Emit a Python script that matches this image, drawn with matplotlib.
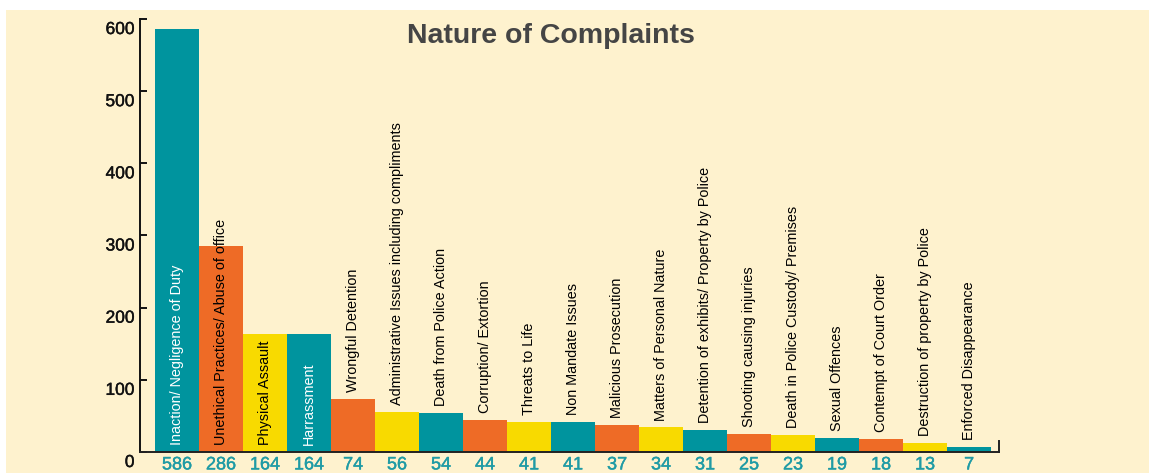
import matplotlib
matplotlib.use("Agg")
import matplotlib.pyplot as plt
import matplotlib.transforms as mtransforms
import matplotlib.patheffects as pe
from matplotlib.patches import Rectangle
from matplotlib.lines import Line2D

plt.rcParams['font.family'] = ['Liberation Sans', 'DejaVu Sans']

categories = [
    "Inaction/ Negligence of Duty",
    "Unethical Practices/ Abuse of office",
    "Physical Assault",
    "Harrassment",
    "Wrongful Detention",
    "Administrative Issues including compliments",
    "Death from Police Action",
    "Corruption/ Extortion",
    "Threats to Life",
    "Non Mandate Issues",
    "Malicious Prosecution",
    "Matters of Personal Nature",
    "Detention of exhibits/ Property by Police",
    "Shooting causing injuries",
    "Death in Police Custody/ Premises",
    "Sexual Offences",
    "Contempt of Court Order",
    "Destruction of property by Police",
    "Enforced Disappearance",
]
values = [586, 286, 164, 164, 74, 56, 54, 44, 41, 41, 37, 34, 31, 25, 23, 19, 18, 13, 7]
yticks = [0, 100, 200, 300, 400, 500, 600]
title = "Nature of Complaints"

TEAL = "#00949E"
ORANGE = "#EE6B26"
YELLOW = "#F8DA00"
CREAM = "#FEF2CE"
palette = [TEAL, ORANGE, YELLOW]
bar_colors = [palette[i % 3] for i in range(len(values))]

W, H = 1149, 473
fig = plt.figure(figsize=(W / 100, H / 100), dpi=100, facecolor="white")
fig.patches.append(Rectangle((6 / W, 0), 1, (H - 10) / H, transform=fig.transFigure,
                             facecolor=CREAM, edgecolor="none", zorder=-10))

ax = fig.add_axes([140 / W, 21 / H, (999 - 140) / W, (452 - 19) / H])
ax.set_facecolor("none")
x = list(range(len(values)))
ax.bar(x, values, width=1.0, color=bar_colors, edgecolor="none", zorder=2)
ax.set_xlim(-0.5 - 15 / 44, len(values) - 0.5 + 8 / 44)
ax.set_ylim(0, 600)

for s in ["top", "right"]:
    ax.spines[s].set_visible(False)
ax.spines["left"].set_linewidth(1.4)
ax.spines["bottom"].set_linewidth(1.4)
ax.spines["left"].set_color("#111111")
ax.spines["bottom"].set_color("#222222")

ax.set_xticks([])
ax.set_yticks(yticks)
ax.set_yticklabels([str(t) for t in yticks], fontsize=12.5)
ax.tick_params(axis="y", direction="in", length=5, width=1.4, pad=4, colors="#111111")
off = mtransforms.ScaledTranslation(0, -9 / 100, fig.dpi_scale_trans)
thick = [pe.withStroke(linewidth=0.3, foreground="#111111")]
for lab in ax.get_yticklabels():
    lab.set_transform(lab.get_transform() + off)
    lab.set_path_effects(thick)

# small right-end tick
ax.add_line(Line2D([1, 1], [0, 0.025], transform=ax.transAxes, color="#222222",
                   lw=1.4, clip_on=False))

for xi, v, c, col in zip(x, values, categories, bar_colors):
    if v > 150:
        tc = "white" if col == TEAL else "black"
        ax.annotate(c, (xi, 0), xytext=(0, 5), textcoords="offset points",
                    rotation=90, ha="center", va="bottom", fontsize=10.4, color=tc, zorder=3)
    else:
        ax.annotate(c, (xi, v), xytext=(0, 5), textcoords="offset points",
                    rotation=90, ha="center", va="bottom", fontsize=10.4, color="black", zorder=3)
    t = ax.annotate(str(v), (xi, 0), xytext=(0, -9.3), textcoords="offset points",
                    ha="center", va="center", fontsize=13, color="#1F9BA5", annotation_clip=False)
    t.set_path_effects([pe.withStroke(linewidth=0.3, foreground="#1F9BA5")])

fig.text(551 / W, (H - 36) / H, title, ha="center", va="center", fontsize=20.5,
         fontweight="bold", color="#454545")

fig.savefig("out.png", dpi=100, facecolor=fig.get_facecolor())
